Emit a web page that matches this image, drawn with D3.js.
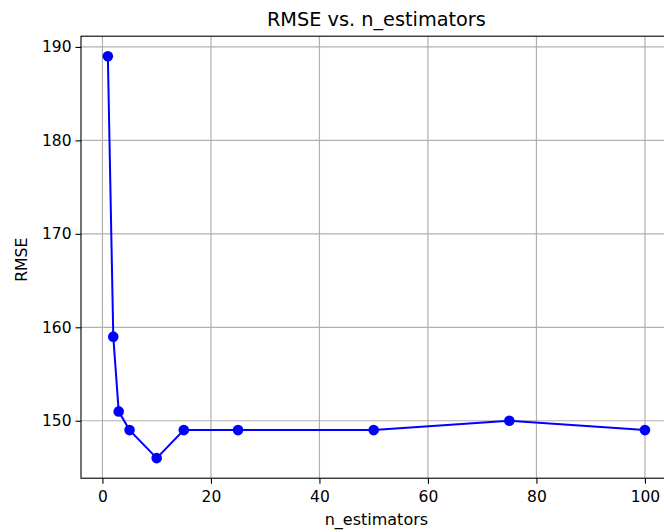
<!DOCTYPE html>
<html>
<head>
<meta charset="utf-8">
<script src="https://cdn.jsdelivr.net/npm/d3@7"></script>
<style>
  body { margin: 0; background: #fff; }
  svg { display: block; font-family: "DejaVu Sans", sans-serif; }
  .grid line { stroke: #b0b0b0; stroke-width: 1.2px; }
</style>
</head>
<body>
<div id="chart"></div>
<script>
// data
var nEstimators = [1, 2, 3, 5, 10, 15, 25, 50, 75, 100];
var rmse = [189, 159, 151, 149, 146, 149, 149, 149, 150, 149];
var xTicks = [0, 20, 40, 60, 80, 100];
var yTicks = [150, 160, 170, 180, 190];

var width = 664, height = 532;
var margin = {top: 36.2, left: 81, bottom: 478.2, right: 671.8};

var data = nEstimators.map(function (d, i) {
    return {x: d, y: rmse[i]};
});

var svg = d3.select("#chart").append("svg")
    .attr("width", width)
    .attr("height", height);

// matplotlib style auto limits (5% margins)
var x = d3.scaleLinear()
    .domain([-3.95, 104.95])
    .range([margin.left, margin.right]);

var y = d3.scaleLinear()
    .domain([143.85, 191.15])
    .range([margin.bottom, margin.top]);

// grid
var grid = svg.append("g").attr("class", "grid");
grid.selectAll(".gx")
    .data(xTicks)
    .enter().append("line")
    .attr("x1", function (d) { return x(d); })
    .attr("x2", function (d) { return x(d); })
    .attr("y1", margin.top)
    .attr("y2", margin.bottom);
grid.selectAll(".gy")
    .data(yTicks)
    .enter().append("line")
    .attr("x1", margin.left)
    .attr("x2", margin.right)
    .attr("y1", function (d) { return y(d); })
    .attr("y2", function (d) { return y(d); });

// line + markers
var line = d3.line()
    .x(function (d) { return x(d.x); })
    .y(function (d) { return y(d.y); });

svg.append("path")
    .datum(data)
    .attr("d", line)
    .style("fill", "none")
    .style("stroke", "#0000ff")
    .style("stroke-width", 2);

svg.selectAll(".dot")
    .data(data)
    .enter().append("circle")
    .attr("class", "dot")
    .attr("r", 5.3)
    .attr("cx", function (d) { return x(d.x); })
    .attr("cy", function (d) { return y(d.y); })
    .style("fill", "#0000ff");

// axes
var xAxis = d3.axisBottom(x).tickValues(xTicks).tickSize(5.5).tickPadding(7);
var yAxis = d3.axisLeft(y).tickValues(yTicks).tickSize(5.5).tickPadding(4);

var gx = svg.append("g")
    .attr("transform", "translate(0," + margin.bottom + ")")
    .call(xAxis);
var gy = svg.append("g")
    .attr("transform", "translate(" + margin.left + ",0)")
    .call(yAxis);

[gx, gy].forEach(function (g) {
    g.select(".domain").remove();
    g.selectAll(".tick line").style("stroke", "#000").style("stroke-width", 1.1);
    g.selectAll(".tick text")
        .style("font-family", "DejaVu Sans")
        .style("font-size", "15.5px")
        .style("fill", "#000");
});

// spines
svg.append("rect")
    .attr("x", margin.left)
    .attr("y", margin.top)
    .attr("width", margin.right - margin.left)
    .attr("height", margin.bottom - margin.top)
    .style("fill", "none")
    .style("stroke", "#000")
    .style("stroke-width", 1.1);

// labels
var cx = (margin.left + margin.right) / 2;
svg.append("text")
    .attr("x", cx)
    .attr("y", 26)
    .attr("text-anchor", "middle")
    .style("font-size", "19.3px")
    .style("fill", "#000")
    .text("RMSE vs. n_estimators");

svg.append("text")
    .attr("x", cx)
    .attr("y", 525)
    .attr("text-anchor", "middle")
    .style("font-size", "16px")
    .style("fill", "#000")
    .text("n_estimators");

svg.append("text")
    .attr("transform", "translate(27," + ((margin.top + margin.bottom) / 2 + 2.5) + ") rotate(-90)")
    .attr("text-anchor", "middle")
    .style("font-size", "15.7px")
    .style("fill", "#000")
    .text("RMSE");
</script>
</body>
</html>
